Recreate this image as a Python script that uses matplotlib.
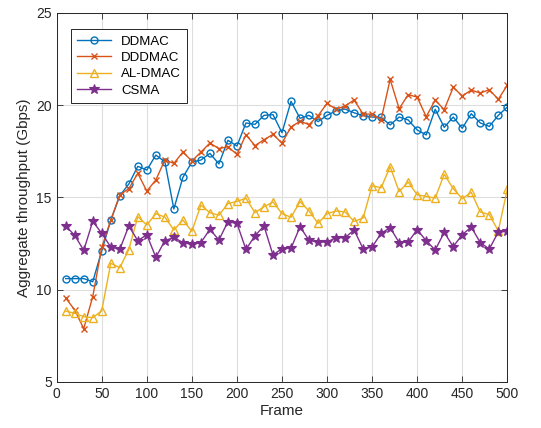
import numpy as np
import matplotlib
matplotlib.use("Agg")
import matplotlib.pyplot as plt

# ── Data ──────────────────────────────────────────────────────────────────────
frames = list(range(10, 501, 10))

ddmac = [10.60, 10.60, 10.60, 10.43, 12.11, 13.75, 15.09, 15.72, 16.68, 16.48,
         17.29, 16.93, 14.37, 16.08, 16.91, 17.02, 17.38, 16.81, 18.09, 17.78,
         19.03, 18.95, 19.44, 19.48, 18.50, 20.20, 19.28, 19.44, 19.10, 19.44,
         19.69, 19.78, 19.58, 19.42, 19.35, 19.33, 18.92, 19.35, 19.19, 18.65,
         18.38, 19.77, 18.79, 19.35, 18.74, 19.53, 19.03, 18.84, 19.44, 19.89]

dddmac = [9.55, 8.90, 7.89, 9.62, 12.29, 13.77, 15.13, 15.47, 16.30, 15.34,
          15.94, 17.02, 16.84, 17.45, 16.97, 17.45, 17.94, 17.64, 17.74, 17.33,
          18.39, 17.80, 18.12, 18.41, 17.94, 18.81, 19.12, 18.94, 19.42, 20.09,
          19.77, 19.95, 20.27, 19.51, 19.51, 19.21, 21.39, 19.80, 20.56, 20.43,
          19.37, 20.27, 19.75, 20.96, 20.49, 20.81, 20.65, 20.83, 20.31, 21.07]

al_dmac = [8.84, 8.72, 8.54, 8.48, 8.86, 11.43, 11.19, 12.17, 13.95, 13.50,
           14.12, 13.93, 13.23, 13.77, 13.16, 14.58, 14.17, 14.03, 14.66, 14.78,
           14.95, 14.17, 14.49, 14.75, 14.12, 13.92, 14.77, 14.26, 13.59, 14.12,
           14.26, 14.21, 13.70, 13.88, 15.63, 15.52, 16.66, 15.31, 15.83, 15.14,
           15.05, 14.96, 16.25, 15.47, 14.93, 15.27, 14.21, 14.06, 13.19, 15.43]

csma = [13.45, 12.94, 12.13, 13.70, 13.05, 12.31, 12.18, 13.45, 12.65, 12.98,
        11.75, 12.65, 12.83, 12.55, 12.45, 12.55, 13.27, 12.69, 13.68, 13.59,
        12.18, 12.92, 13.45, 11.88, 12.22, 12.24, 13.41, 12.67, 12.58, 12.58,
        12.82, 12.82, 13.23, 12.22, 12.31, 13.05, 13.36, 12.55, 12.58, 13.25,
        12.65, 12.15, 13.10, 12.33, 12.98, 13.39, 12.55, 12.20, 13.12, 13.16]

x_ticks = [0, 50, 100, 150, 200, 250, 300, 350, 400, 450, 500]
y_ticks = [5, 10, 15, 20, 25]

# MATLAB default colour order
BLUE   = "#0072BD"
ORANGE = "#D95319"
YELLOW = "#EDB120"
PURPLE = "#7E2F8E"

plt.rcParams["font.family"] = ["Liberation Sans", "DejaVu Sans"]

fig = plt.figure(figsize=(5.41, 4.28), dpi=100)
ax = fig.add_axes([0.1048, 0.1075, 0.8329, 0.8628])

ax.plot(frames, ddmac, color=BLUE, lw=1.0, marker="o", ms=5,
        mfc="none", mew=1.0, label="DDMAC")
ax.plot(frames, dddmac, color=ORANGE, lw=1.0, marker="x", ms=4,
        mew=1.0, label="DDDMAC")
ax.plot(frames, al_dmac, color=YELLOW, lw=1.0, marker="^", ms=5.5,
        mfc="none", mew=1.0, label="AL-DMAC")
ax.plot(frames, csma, color=PURPLE, lw=1.0, marker="*", ms=7,
        mew=0.8, label="CSMA")

ax.set_xlim(0, 500)
ax.set_ylim(5, 25)
ax.set_xticks(x_ticks)
ax.set_yticks(y_ticks)
ax.grid(True, color="#dedede", lw=0.8)
ax.set_axisbelow(True)
ax.tick_params(direction="in", length=4, width=0.6, colors="#262626",
               labelsize=10, top=True, right=True, labeltop=False, labelright=False)
for sp in ax.spines.values():
    sp.set_color("#262626")
    sp.set_linewidth(0.7)

ax.set_xlabel("Frame", fontsize=11, color="#262626", labelpad=2)
ax.set_ylabel("Aggregate throughput (Gbps)", fontsize=11, color="#262626", labelpad=4)

leg = ax.legend(loc="upper left", bbox_to_anchor=(0.032, 0.955), borderaxespad=0,
                fancybox=False, edgecolor="#262626", framealpha=1, fontsize=9.5,
                handlelength=2.6, borderpad=0.45, labelspacing=0.32, handletextpad=0.75)
leg.get_frame().set_linewidth(0.7)

fig.savefig("out.png", dpi=100)
